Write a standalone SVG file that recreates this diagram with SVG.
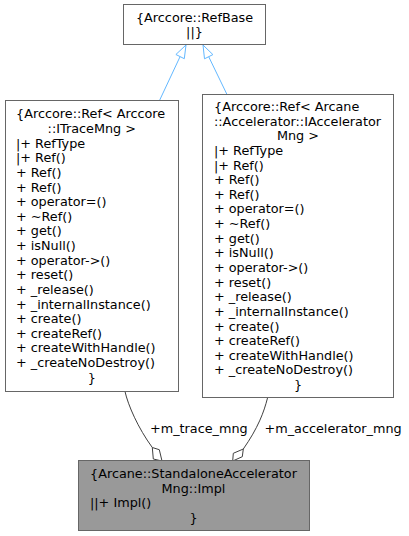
<svg xmlns="http://www.w3.org/2000/svg" width="409" height="536" viewBox="0 0 409 536">
<style>
text{font-family:"DejaVu Sans","Liberation Sans",sans-serif;font-size:12.8px;fill:#000}
.m{text-anchor:middle}
.box{fill:#fff;stroke:#666;stroke-width:1}
.cur{fill:#999;stroke:#666;stroke-width:1}
.inh{fill:none;stroke:#63b8ff;stroke-width:1}
.inhh{fill:#fff;stroke:#63b8ff;stroke-width:1}
.cmp{fill:none;stroke:#404040;stroke-width:1}
.cmph{fill:#fff;stroke:#404040;stroke-width:1}
</style>
<rect width="409" height="536" fill="#fff"/>
<g id="connectors">
<path class="inh" d="M159.5,100.5 L180.1,56.6"/>
<polygon class="inhh" points="186,45 184.3,58.7 175.9,54.5"/>
<path class="inh" d="M227,94.5 L208.7,56.7"/>
<polygon class="inhh" points="203,45 212.9,54.6 204.5,58.8"/>
<path class="cmp" d="M125,391.5 C128,405 138,428 152.3,447.5"/>
<polygon class="cmph" points="162,461 153.3,459 152.3,447.5 159.3,449.7"/>
<path class="cmp" d="M267.5,398 C264,412 258,428 243.3,449"/>
<polygon class="cmph" points="232.7,461 233.3,453.3 243.3,449 242.3,456.7"/>
<text x="150" y="433">+m_trace_mng</text>
<text x="264.5" y="433">+m_accelerator_mng</text>
</g>
<g id="node_refbase">
<rect class="box" x="123.5" y="4.5" width="142" height="40"/>
<text class="m" x="194.5" y="21.7">{Arccore::RefBase</text>
<text class="m" x="194.5" y="36.3">||}</text>
</g>
<g id="node_ref_tracemng">
<rect class="box" x="5.5" y="100.5" width="173" height="291"/>
<text x="16" y="118.3">{Arccore::Ref&lt; Arccore</text>
<text class="m" x="91.8" y="132.9">::ITraceMng &gt;</text>
<text x="16" y="147.6">|+ RefType</text>
<text x="16" y="162.2">|+ Ref()</text>
<text x="16" y="176.8">+ Ref()</text>
<text x="16" y="191.5">+ Ref()</text>
<text x="16" y="206.1">+ operator=()</text>
<text x="16" y="220.7">+ ~Ref()</text>
<text x="16" y="235.3">+ get()</text>
<text x="16" y="250">+ isNull()</text>
<text x="16" y="264.6">+ operator-&gt;()</text>
<text x="16" y="279.2">+ reset()</text>
<text x="16" y="293.9">+ _release()</text>
<text x="16" y="308.5">+ _internalInstance()</text>
<text x="16" y="323.1">+ create()</text>
<text x="16" y="337.8">+ createRef()</text>
<text x="16" y="352.4">+ createWithHandle()</text>
<text x="16" y="367">+ _createNoDestroy()</text>
<text class="m" x="91.8" y="381.6">}</text>
</g>
<g id="node_ref_accmng">
<rect class="box" x="202.5" y="94.5" width="191" height="303"/>
<text x="214" y="111">{Arccore::Ref&lt; Arcane</text>
<text x="214" y="125.6">::Accelerator::IAccelerator</text>
<text class="m" x="298" y="140.3">Mng &gt;</text>
<text x="214" y="154.9">|+ RefType</text>
<text x="214" y="169.5">|+ Ref()</text>
<text x="214" y="184.2">+ Ref()</text>
<text x="214" y="198.8">+ Ref()</text>
<text x="214" y="213.4">+ operator=()</text>
<text x="214" y="228">+ ~Ref()</text>
<text x="214" y="242.7">+ get()</text>
<text x="214" y="257.3">+ isNull()</text>
<text x="214" y="271.9">+ operator-&gt;()</text>
<text x="214" y="286.6">+ reset()</text>
<text x="214" y="301.2">+ _release()</text>
<text x="214" y="315.8">+ _internalInstance()</text>
<text x="214" y="330.5">+ create()</text>
<text x="214" y="345.1">+ createRef()</text>
<text x="214" y="359.7">+ createWithHandle()</text>
<text x="214" y="374.3">+ _createNoDestroy()</text>
<text class="m" x="298" y="389">}</text>
</g>
<g id="node_impl">
<rect class="cur" x="78.5" y="460.5" width="231" height="70"/>
<text x="90" y="478.1">{Arcane::StandaloneAccelerator</text>
<text class="m" x="193.5" y="492.7">Mng::Impl</text>
<text x="90" y="507.3">||+ Impl()</text>
<text class="m" x="193.5" y="521.9">}</text>
</g>
</svg>
